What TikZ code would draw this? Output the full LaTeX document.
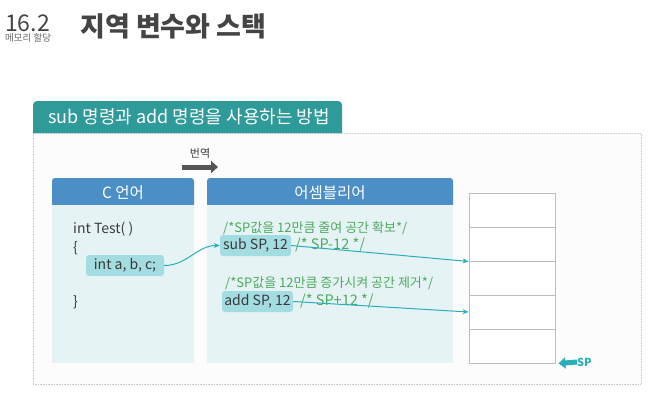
\documentclass[tikz,border=0pt]{standalone}
\usepackage{fontspec}
\setmainfont{Noto Sans CJK KR}
\setsansfont{Noto Sans CJK KR}
\usetikzlibrary{arrows.meta}
\definecolor{bg}{HTML}{FFFFFF}
\definecolor{framefill}{HTML}{FCFCFC}
\definecolor{frameedge}{HTML}{CCCCCC}
\definecolor{tab}{HTML}{2E9B9A}
\definecolor{hdrblue}{HTML}{4C8EC6}
\definecolor{pane}{HTML}{E6F3F5}
\definecolor{hilite}{HTML}{A3DCE1}
\definecolor{link}{HTML}{29AFB9}
\definecolor{cmt}{HTML}{4DAA5E}
\definecolor{ink}{HTML}{3A3A3A}
\definecolor{title}{HTML}{444444}
\definecolor{cellgray}{HTML}{BDBDBD}
\definecolor{transarrow}{HTML}{555555}

\begin{document}
\begin{tikzpicture}[x=1pt,y=-1pt,
  hdr/.style={fill=hdrblue,text=white,rounded corners=3pt,inner sep=0pt,font=\fontsize{15.5}{17}\selectfont},
  panebox/.style={fill=pane,inner sep=0pt},
  code/.style={text=ink,anchor=west,inner sep=0pt,font=\fontsize{14}{16}\selectfont},
  cmtline/.style={text=cmt,anchor=west,inner sep=0pt,font=\fontsize{13}{15}\selectfont},
  hl/.style={fill=hilite,rounded corners=3pt,text=ink,inner sep=0pt,font=\fontsize{14}{16}\selectfont},
  cell/.style={draw=cellgray,line width=0.9pt,fill=white,inner sep=0pt,minimum width=86pt,minimum height=34pt},
  flow/.style={-{Stealth[length=6pt,width=5pt]},line width=1pt,link}]
  \fill[bg] (0,0) rectangle (660,412);

  % ===== page title =====
  \node[anchor=west,inner sep=0pt,text=title,font=\fontsize{23}{25}\selectfont] (secno) at (5,23) {16.2};
  \node[anchor=west,inner sep=0pt,text=title!80,font=\fontsize{9.5}{11}\selectfont] (secname) at (5,38) {메모리 할당};
  \node[anchor=west,inner sep=0pt,text=title,font=\bfseries\fontsize{27}{30}\selectfont] (pagetitle) at (80,26) {지역 변수와 스택};

  % ===== frame and tab =====
  \fill[framefill] (33,133) rectangle (641,384);
  \draw[frameedge,densely dotted,line width=0.6pt] (33,133) rectangle (641,384);
  \fill[tab] (33,133) [rounded corners=4pt] -- (33,101) -- (342,101) [sharp corners] -- (342,133) -- cycle;
  \node[text=white,inner sep=0pt,font=\fontsize{18}{20}\selectfont] (tabtxt) at (189,117) {sub 명령과 add 명령을 사용하는 방법};

  % ===== translate arrow =====
  \node[inner sep=0pt,text=ink,font=\fontsize{11}{13}\selectfont] (trans) at (200,153) {번역};
  \coordinate (ta) at (182,167);
  \coordinate (tb) at (218,167);
  \draw[-{Triangle[length=7pt,width=12pt]},line width=5pt,transarrow] (ta) -- (tb);

  % ===== C panel (x = 52..194) =====
  \node[hdr,minimum width=142pt,minimum height=30pt] (chdr) at (123,193) {C 언어};
  \node[panebox,minimum width=142pt,minimum height=158pt] (cpane) at (123,284) {};
  \node[code] (ctest) at (73,229) {int Test( )};
  \node[code] (copen) at (73,248) {\{};
  \node[hl,minimum width=78pt,minimum height=21pt] (cvars) at (125,265.5) {int a, b, c;};
  \node[code] (cclose) at (73,302) {\}};

  % ===== assembly panel (x = 207..453) =====
  \node[hdr,minimum width=246pt,minimum height=30pt] (ahdr) at (330,193) {어셈블리어};
  \node[panebox,minimum width=246pt,minimum height=158pt] (apane) at (330,284) {};
  \node[cmtline] (cmtsub) at (223,228) {/*SP값을 12만큼 줄여 공간 확보*/};
  \node[hl,minimum width=71pt,minimum height=21pt] (asub) at (255.5,245.5) {sub SP, 12};
  \node[cmtline,font=\fontsize{14.5}{16}\selectfont] (cmtsubr) at (295,245) {/* SP-12 */};
  \node[cmtline] (cmtadd) at (225,283) {/*SP값을 12만큼 증가시켜 공간 제거*/};
  \node[hl,minimum width=71pt,minimum height=21pt] (aadd) at (257.5,301.5) {add SP, 12};
  \node[cmtline,font=\fontsize{14.5}{16}\selectfont] (cmtaddr) at (300,301) {/* SP+12 */};

  % ===== stack (x = 469..555) =====
  \node[cell] (s1) at (512,210) {};
  \node[cell] (s2) at (512,244) {};
  \node[cell] (s3) at (512,278) {};
  \node[cell] (s4) at (512,312) {};
  \node[cell] (s5) at (512,346) {};
  \node[inner sep=0pt,text=link,font=\bfseries\fontsize{11}{13}\selectfont,anchor=west] (sp) at (577,362) {SP};
  \draw[-{Triangle[length=7pt,width=11pt]},line width=5pt,link] (sp.west) -- ([xshift=3pt]s5.south east);

  % ===== connectors =====
  \draw[flow] (cvars.east) to[out=0,in=180] (asub.west);
  \draw[flow] (asub.east) -- (s2.south west);
  \draw[flow] (aadd.east) -- (s4.west);
\end{tikzpicture}
\end{document}
